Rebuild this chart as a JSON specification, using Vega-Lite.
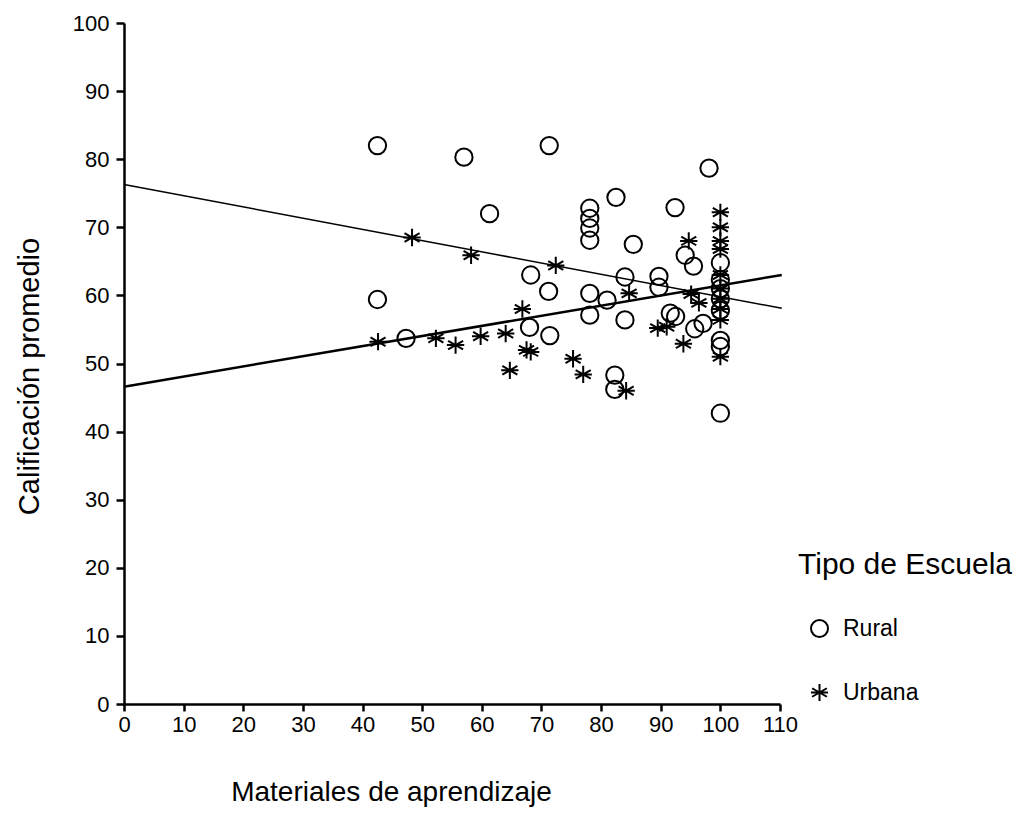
{
  "$schema": "https://vega.github.io/schema/vega-lite/v6.json",
  "width": 656,
  "height": 681,
  "autosize": "none",
  "padding": {"left": 124, "top": 23, "right": 252, "bottom": 119},
  "background": "white",
  "config": {
    "font": "Liberation Sans",
    "view": {"stroke": null},
    "axis": {"grid": false, "domainColor": "black", "tickColor": "black", "labelColor": "black", "titleColor": "black", "domainWidth": 2.5, "tickWidth": 2.5, "labelFont": "Liberation Sans", "titleFont": "Liberation Sans", "titleFontWeight": "normal"}
  },
  "datasets": {
    "points": [
      {"materiales": 42.5, "calificacion": 82.0, "tipo": "Rural"},
      {"materiales": 57.0, "calificacion": 80.3, "tipo": "Rural"},
      {"materiales": 71.3, "calificacion": 82.0, "tipo": "Rural"},
      {"materiales": 61.3, "calificacion": 72.0, "tipo": "Rural"},
      {"materiales": 68.2, "calificacion": 63.0, "tipo": "Rural"},
      {"materiales": 71.2, "calificacion": 60.6, "tipo": "Rural"},
      {"materiales": 42.5, "calificacion": 59.4, "tipo": "Rural"},
      {"materiales": 47.3, "calificacion": 53.7, "tipo": "Rural"},
      {"materiales": 68.0, "calificacion": 55.3, "tipo": "Rural"},
      {"materiales": 71.4, "calificacion": 54.1, "tipo": "Rural"},
      {"materiales": 78.1, "calificacion": 72.8, "tipo": "Rural"},
      {"materiales": 78.1, "calificacion": 71.3, "tipo": "Rural"},
      {"materiales": 78.1, "calificacion": 69.9, "tipo": "Rural"},
      {"materiales": 78.1, "calificacion": 68.1, "tipo": "Rural"},
      {"materiales": 82.5, "calificacion": 74.4, "tipo": "Rural"},
      {"materiales": 85.4, "calificacion": 67.5, "tipo": "Rural"},
      {"materiales": 92.4, "calificacion": 72.9, "tipo": "Rural"},
      {"materiales": 98.1, "calificacion": 78.7, "tipo": "Rural"},
      {"materiales": 84.0, "calificacion": 62.7, "tipo": "Rural"},
      {"materiales": 89.7, "calificacion": 62.8, "tipo": "Rural"},
      {"materiales": 89.7, "calificacion": 61.2, "tipo": "Rural"},
      {"materiales": 78.1, "calificacion": 60.3, "tipo": "Rural"},
      {"materiales": 81.0, "calificacion": 59.3, "tipo": "Rural"},
      {"materiales": 78.1, "calificacion": 57.1, "tipo": "Rural"},
      {"materiales": 84.0, "calificacion": 56.4, "tipo": "Rural"},
      {"materiales": 91.6, "calificacion": 57.4, "tipo": "Rural"},
      {"materiales": 92.5, "calificacion": 56.9, "tipo": "Rural"},
      {"materiales": 82.3, "calificacion": 48.3, "tipo": "Rural"},
      {"materiales": 82.3, "calificacion": 46.2, "tipo": "Rural"},
      {"materiales": 94.1, "calificacion": 65.9, "tipo": "Rural"},
      {"materiales": 95.5, "calificacion": 64.3, "tipo": "Rural"},
      {"materiales": 95.7, "calificacion": 55.1, "tipo": "Rural"},
      {"materiales": 97.1, "calificacion": 55.9, "tipo": "Rural"},
      {"materiales": 100.0, "calificacion": 42.7, "tipo": "Rural"},
      {"materiales": 100.0, "calificacion": 64.8, "tipo": "Rural"},
      {"materiales": 100.0, "calificacion": 62.3, "tipo": "Rural"},
      {"materiales": 100.0, "calificacion": 61.0, "tipo": "Rural"},
      {"materiales": 100.0, "calificacion": 59.5, "tipo": "Rural"},
      {"materiales": 100.0, "calificacion": 57.8, "tipo": "Rural"},
      {"materiales": 100.0, "calificacion": 53.4, "tipo": "Rural"},
      {"materiales": 100.0, "calificacion": 52.5, "tipo": "Rural"},
      {"materiales": 42.6, "calificacion": 53.2, "tipo": "Urbana"},
      {"materiales": 48.3, "calificacion": 68.5, "tipo": "Urbana"},
      {"materiales": 52.3, "calificacion": 53.7, "tipo": "Urbana"},
      {"materiales": 55.6, "calificacion": 52.7, "tipo": "Urbana"},
      {"materiales": 58.2, "calificacion": 65.9, "tipo": "Urbana"},
      {"materiales": 59.8, "calificacion": 54.0, "tipo": "Urbana"},
      {"materiales": 64.0, "calificacion": 54.4, "tipo": "Urbana"},
      {"materiales": 64.7, "calificacion": 49.0, "tipo": "Urbana"},
      {"materiales": 66.8, "calificacion": 58.0, "tipo": "Urbana"},
      {"materiales": 67.5, "calificacion": 52.0, "tipo": "Urbana"},
      {"materiales": 68.2, "calificacion": 51.7, "tipo": "Urbana"},
      {"materiales": 72.4, "calificacion": 64.4, "tipo": "Urbana"},
      {"materiales": 75.3, "calificacion": 50.7, "tipo": "Urbana"},
      {"materiales": 77.0, "calificacion": 48.4, "tipo": "Urbana"},
      {"materiales": 84.2, "calificacion": 46.0, "tipo": "Urbana"},
      {"materiales": 84.7, "calificacion": 60.3, "tipo": "Urbana"},
      {"materiales": 89.5, "calificacion": 55.2, "tipo": "Urbana"},
      {"materiales": 91.0, "calificacion": 55.4, "tipo": "Urbana"},
      {"materiales": 93.8, "calificacion": 52.9, "tipo": "Urbana"},
      {"materiales": 94.7, "calificacion": 68.0, "tipo": "Urbana"},
      {"materiales": 95.1, "calificacion": 60.2, "tipo": "Urbana"},
      {"materiales": 96.4, "calificacion": 58.9, "tipo": "Urbana"},
      {"materiales": 100.0, "calificacion": 72.2, "tipo": "Urbana"},
      {"materiales": 100.0, "calificacion": 70.0, "tipo": "Urbana"},
      {"materiales": 100.0, "calificacion": 68.0, "tipo": "Urbana"},
      {"materiales": 100.0, "calificacion": 66.8, "tipo": "Urbana"},
      {"materiales": 100.0, "calificacion": 63.0, "tipo": "Urbana"},
      {"materiales": 100.0, "calificacion": 61.0, "tipo": "Urbana"},
      {"materiales": 100.0, "calificacion": 59.5, "tipo": "Urbana"},
      {"materiales": 100.0, "calificacion": 58.0, "tipo": "Urbana"},
      {"materiales": 100.0, "calificacion": 56.4, "tipo": "Urbana"},
      {"materiales": 100.0, "calificacion": 51.0, "tipo": "Urbana"}
    ],
    "lines": [
      {"materiales": 0, "calificacion": 76.3, "tipo": "Rural"},
      {"materiales": 110.3, "calificacion": 58.1, "tipo": "Rural"},
      {"materiales": 0, "calificacion": 46.6, "tipo": "Urbana"},
      {"materiales": 110.3, "calificacion": 63.0, "tipo": "Urbana"}
    ]
  },
  "layer": [
    {
      "data": {"name": "lines"},
      "transform": [{"filter": "datum.tipo === 'Rural'"}],
      "mark": {"type": "line", "color": "black", "strokeWidth": 1.5, "clip": false},
      "encoding": {
        "x": {"field": "materiales", "type": "quantitative"},
        "y": {"field": "calificacion", "type": "quantitative"}
      }
    },
    {
      "data": {"name": "lines"},
      "transform": [{"filter": "datum.tipo === 'Urbana'"}],
      "mark": {"type": "line", "color": "black", "strokeWidth": 2.5, "clip": false},
      "encoding": {
        "x": {"field": "materiales", "type": "quantitative"},
        "y": {"field": "calificacion", "type": "quantitative"}
      }
    },
    {
      "data": {"name": "points"},
      "mark": {"type": "point", "filled": false, "color": "black", "strokeWidth": 2, "opacity": 1},
      "encoding": {
        "x": {
          "field": "materiales", "type": "quantitative",
          "scale": {"domain": [0, 110], "nice": false, "zero": true},
          "axis": {"values": [0,10,20,30,40,50,60,70,80,90,100,110], "title": "Materiales de aprendizaje", "titleFontSize": 28, "labelFontSize": 22, "tickSize": 7, "labelPadding": 3, "titleX": 267, "titleY": 96, "titleBaseline": "alphabetic", "labelFlush": false}
        },
        "y": {
          "field": "calificacion", "type": "quantitative",
          "scale": {"domain": [0, 100], "nice": false},
          "axis": {"values": [0,10,20,30,40,50,60,70,80,90,100], "title": "Calificación promedio", "titleFontSize": 29, "labelFontSize": 22, "tickSize": 8, "labelPadding": 7, "titleX": -80, "titleY": 353, "labelFlush": false}
        },
        "shape": {
          "field": "tipo", "type": "nominal",
          "scale": {"domain": ["Rural", "Urbana"], "range": ["circle", "M0,-1L0,1M-0.87,-0.5L0.87,0.5M-0.87,0.5L0.87,-0.5M-1,0L1,0"]},
          "legend": {
            "title": "Tipo de Escuela",
            "orient": "none",
            "legendX": 674,
            "legendY": 527,
            "titleFontSize": 30,
            "titleFont": "Liberation Sans",
            "titleFontWeight": "normal",
            "titleColor": "black",
            "titleLimit": 400,
            "titlePadding": 37,
            "labelFontSize": 23,
            "labelColor": "black",
            "labelFont": "Liberation Sans",
            "labelLimit": 300,
            "labelOffset": 12,
            "rowPadding": 39,
            "symbolOffset": 10,
            "symbolSize": 289,
            "symbolStrokeWidth": 2,
            "symbolStrokeColor": "black"
          }
        },
        "size": {"value": 300}
      }
    }
  ]
}
